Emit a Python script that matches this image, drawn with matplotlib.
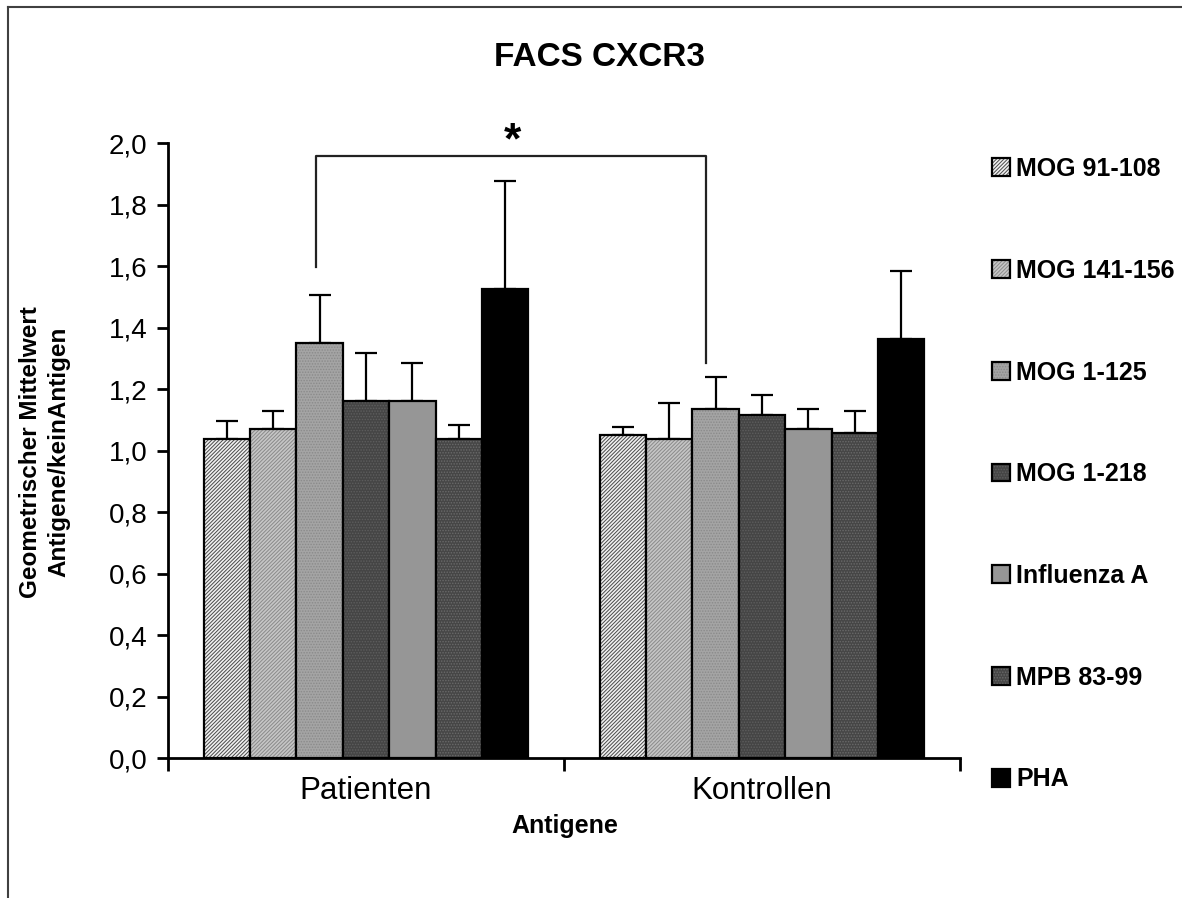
import matplotlib
matplotlib.use("Agg")
import matplotlib.pyplot as plt
import matplotlib.colors as mcolors
from matplotlib.lines import Line2D
import numpy as np

plt.rcParams['font.family'] = ['Liberation Sans', 'DejaVu Sans']
plt.rcParams['hatch.linewidth'] = 0.7

# ---------------- data ----------------
groups = ["Patienten", "Kontrollen"]
series = ["MOG 91-108", "MOG 141-156", "MOG 1-125", "MOG 1-218",
          "Influenza A", "MPB 83-99", "PHA"]
# mean values per series: [Patienten, Kontrollen]
means = {
    "MOG 91-108":  [1.037, 1.052],
    "MOG 141-156": [1.071, 1.038],
    "MOG 1-125":   [1.351, 1.137],
    "MOG 1-218":   [1.162, 1.116],
    "Influenza A": [1.162, 1.072],
    "MPB 83-99":   [1.037, 1.058],
    "PHA":         [1.527, 1.364],
}
# upper end of error bars
err_top = {
    "MOG 91-108":  [1.097, 1.078],
    "MOG 141-156": [1.129, 1.156],
    "MOG 1-125":   [1.507, 1.240],
    "MOG 1-218":   [1.319, 1.181],
    "Influenza A": [1.286, 1.137],
    "MPB 83-99":   [1.084, 1.129],
    "PHA":         [1.877, 1.584],
}
y_ticks = [0.0, 0.2, 0.4, 0.6, 0.8, 1.0, 1.2, 1.4, 1.6, 1.8, 2.0]
y_tick_labels = ["0,0", "0,2", "0,4", "0,6", "0,8", "1,0", "1,2", "1,4", "1,6", "1,8", "2,0"]
# significance bracket (x in category units, y in value units)
bracket_x = [-0.127, 0.858]
bracket_y_top = 1.96
bracket_y_bottom = [1.598, 1.284]

# ---------------- styles ----------------
styles = {
    "MOG 91-108":  dict(face="#f0f0f0", hatch="/" * 9, hcolor="#4a4a4a"),
    "MOG 141-156": dict(face="#c6c6c6", hatch="/" * 9, hcolor="#8a8a8a"),
    "MOG 1-125":   dict(face="#a4a4a4", hatch="......", hcolor="#8a8a8a"),
    "MOG 1-218":   dict(face="#454545", hatch="......", hcolor="#5e5e5e"),
    "Influenza A": dict(face="#969696", hatch=None, hcolor=None),
    "MPB 83-99":   dict(face="#464646", hatch="......", hcolor="#6a6a6a"),
    "PHA":         dict(face="#000000", hatch=None, hcolor=None),
}

W, H = 1182, 898
fig = plt.figure(figsize=(W / 100, H / 100), dpi=100)
ax_left, ax_right, ax_top, ax_bottom = 168, 960, 143.3, 758.2
ax = fig.add_axes([ax_left / W, 1 - ax_bottom / H,
                   (ax_right - ax_left) / W, (ax_bottom - ax_top) / H])

n = len(series)
group_w = 0.82
bw = group_w / n
xg = np.arange(len(groups))

for i, s in enumerate(series):
    st = styles[s]
    x = xg + (i - (n - 1) / 2) * bw
    vals = np.array(means[s])
    tops = np.array(err_top[s])
    bars = ax.bar(x, vals, width=bw, color=st["face"], edgecolor="black",
                  linewidth=1.6, hatch=st["hatch"], label=s, zorder=2)
    if st["hcolor"] is not None:
        for p in bars:
            p._hatch_color = mcolors.to_rgba(st["hcolor"])
    ax.errorbar(x, vals, yerr=[np.zeros_like(vals), tops - vals], fmt="none",
                ecolor="black", elinewidth=1.6, capsize=8, capthick=1.6, zorder=1)

ax.set_xlim(-0.5, 1.5)
ax.set_ylim(0, 2.0)
ax.set_yticks(y_ticks)
ax.set_yticklabels(y_tick_labels, fontsize=20)
ax.set_xticks([-0.5, 0.5, 1.5])
ax.set_xticklabels([])
ax.set_xticks(xg, minor=True)
ax.set_xticklabels(groups, minor=True, fontsize=22.5)
ax.tick_params(axis="x", which="minor", length=0, pad=13)
ax.tick_params(axis="x", which="major", length=9, width=2, direction="out")
ax.tick_params(axis="y", length=8, width=2, direction="out", pad=7)
for side in ["top", "right"]:
    ax.spines[side].set_visible(False)
for side in ["left", "bottom"]:
    ax.spines[side].set_linewidth(2)

# significance bracket
ax.plot([bracket_x[0], bracket_x[0], bracket_x[1], bracket_x[1]],
        [bracket_y_bottom[0], bracket_y_top, bracket_y_top, bracket_y_bottom[1]],
        color="#222222", linewidth=1.6, clip_on=False, zorder=3)
ax.text(0.371, 2.005, "*", ha="center", va="center", fontsize=32,
        fontweight="bold", clip_on=False)

# legend
fs_leg = 18
fs_px = fs_leg * 100 / 72
leg = ax.legend(loc="upper left",
                bbox_to_anchor=(992 / W, 1 - 157 / H),
                bbox_transform=fig.transFigure,
                frameon=False, borderpad=0, borderaxespad=0,
                handlelength=18 / fs_px, handleheight=18 / fs_px,
                handletextpad=6 / fs_px, labelspacing=3.11,
                prop=dict(size=fs_leg, weight="bold"))

# titles and labels
fig.text(600 / W, 1 - 57 / H, "FACS CXCR3", ha="center", va="center",
         fontsize=24, fontweight="bold")
fig.text(565 / W, 1 - 826 / H, "Antigene", ha="center", va="center",
         fontsize=18, fontweight="bold")
fig.text(45 / W, 1 - 452 / H, "Geometrischer Mittelwert\nAntigene/keinAntigen",
         ha="center", va="center", rotation=90, fontsize=17.5,
         fontweight="bold", linespacing=1.3, multialignment="center")

# outer frame lines (top and left)
fig.add_artist(Line2D([8 / W, 1], [1 - 7 / H, 1 - 7 / H], transform=fig.transFigure,
                      color="#404040", linewidth=1.5))
fig.add_artist(Line2D([8 / W, 8 / W], [0, 1 - 7 / H], transform=fig.transFigure,
                      color="#404040", linewidth=1.5))

fig.savefig("out.png", dpi=100)
